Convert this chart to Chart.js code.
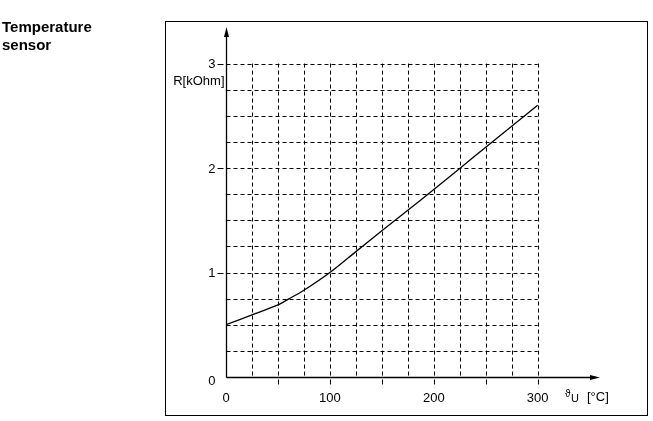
<!DOCTYPE html>
<html>
<head>
<meta charset="utf-8">
<script src="https://cdn.jsdelivr.net/npm/chart.js@4"></script>
<style>
html, body { margin: 0; padding: 0; background: #fff; }
canvas { display: block; }
</style>
</head>
<body>
<canvas id="sensorChart" width="653" height="421"></canvas>
<script>
// curve (temperature in °C, resistance in kOhm)
var temps = [0, 25, 50, 60, 75, 100, 125, 150, 175, 200, 225, 250, 275, 300];
var resistance = [0.5, 0.595, 0.69, 0.745, 0.83, 1.0, 1.2, 1.4, 1.595, 1.795, 1.995, 2.2, 2.4, 2.6];

var xTickLabels = [0, 100, 200, 300];
var yTickLabels = [0, 1, 2, 3];
var xGridLines = [25, 50, 75, 100, 125, 150, 175, 200, 225, 250, 275, 300];
var yGridLines = [0.25, 0.5, 0.75, 1, 1.25, 1.5, 1.75, 2, 2.25, 2.5, 2.75, 3];
var xTickMarks = [50, 100, 150, 200, 250, 300];
var yTickMarks = [1, 2, 3];

var FONT = '"Liberation Sans", Arial, sans-serif';

function seg(ctx, x1, y1, x2, y2) {
	ctx.beginPath();
	ctx.moveTo(x1, y1);
	ctx.lineTo(x2, y2);
	ctx.stroke();
}

var sketch = {
	id: 'sketch',
	beforeDatasetsDraw: function(chart) {
		var ctx = chart.ctx;
		var xs = chart.scales.x, ys = chart.scales.y;
		var area = chart.chartArea;
		var x0 = Math.round(xs.getPixelForValue(0)) + 0.5;
		var y0 = Math.round(ys.getPixelForValue(0)) + 0.5;
		var xEnd = xs.getPixelForValue(300);
		var yTop = ys.getPixelForValue(3);

		ctx.save();
		ctx.strokeStyle = '#000';
		ctx.fillStyle = '#000';

		// outer frame
		ctx.lineWidth = 1;
		ctx.strokeRect(165.5, 21.5, 482, 394);

		// title
		ctx.font = 'bold 15px ' + FONT;
		ctx.textAlign = 'left';
		ctx.textBaseline = 'alphabetic';
		ctx.fillText('Temperature', 2, 32);
		ctx.fillText('sensor', 2, 50);

		// dashed grid
		ctx.setLineDash([4, 3]);
		yGridLines.forEach(function(v) {
			var y = Math.round(ys.getPixelForValue(v)) + 0.5;
			seg(ctx, x0, y, xEnd, y);
		});
		xGridLines.forEach(function(v) {
			var x = Math.round(xs.getPixelForValue(v)) + 0.5;
			seg(ctx, x, yTop, x, y0);
		});
		ctx.setLineDash([]);

		// small tick marks
		yTickMarks.forEach(function(v) {
			var y = Math.round(ys.getPixelForValue(v)) + 0.5;
			seg(ctx, x0 - 9, y, x0 - 3, y);
		});
		xTickMarks.forEach(function(v) {
			var x = Math.round(xs.getPixelForValue(v)) + 0.5;
			seg(ctx, x, y0 + 2, x, y0 + 7);
		});

		// axes with arrows
		ctx.lineWidth = 1.3;
		seg(ctx, x0, y0, x0, area.top + 6);
		seg(ctx, x0, y0, area.right - 6, y0);
		ctx.beginPath();
		ctx.moveTo(x0, area.top);
		ctx.lineTo(x0 - 2.5, area.top + 10);
		ctx.lineTo(x0 + 2.5, area.top + 10);
		ctx.closePath();
		ctx.fill();
		ctx.beginPath();
		ctx.moveTo(area.right, y0);
		ctx.lineTo(area.right - 10, y0 - 2.5);
		ctx.lineTo(area.right - 10, y0 + 2.5);
		ctx.closePath();
		ctx.fill();

		// tick labels
		ctx.font = '13px ' + FONT;
		ctx.textBaseline = 'middle';
		ctx.textAlign = 'right';
		yTickLabels.forEach(function(v) {
			var y = ys.getPixelForValue(v) + (v === 0 ? 4 : 1);
			ctx.fillText(String(v), x0 - 11, y);
		});
		ctx.textAlign = 'center';
		xTickLabels.forEach(function(v) {
			ctx.fillText(String(v), xs.getPixelForValue(v), y0 + 21);
		});

		// axis titles
		ctx.textAlign = 'right';
		ctx.fillText('R[kOhm]', x0 - 2, yTop + 18);
		ctx.textAlign = 'left';
		ctx.font = '10px ' + FONT;
		ctx.fillText('\u03d1', 565, y0 + 17);
		ctx.font = '11px ' + FONT;
		ctx.fillText('U', 571, y0 + 21);
		ctx.font = '13px ' + FONT;
		ctx.fillText('[\u00b0C]', 587, y0 + 20);

		ctx.restore();
	}
};

var points = temps.map(function(t, i) { return { x: t, y: resistance[i] }; });

var sensorChart = new Chart(document.getElementById('sensorChart'), {
	type: 'line',
	data: {
		datasets: [
			{
				data: points,
				borderColor: '#000',
				borderWidth: 1.3,
				pointRadius: 0,
				fill: false,
				tension: 0.3
			}
		]
	},
	options: {
		responsive: false,
		animation: false,
		layout: { padding: { left: 226, top: 27, right: 53, bottom: 44 } },
		plugins: { legend: { display: false }, tooltip: { enabled: false } },
		scales: {
			x: { type: 'linear', min: 0, max: 360, display: false },
			y: { type: 'linear', min: 0, max: 3.35, display: false }
		}
	},
	plugins: [sketch]
});
</script>
</body>
</html>
